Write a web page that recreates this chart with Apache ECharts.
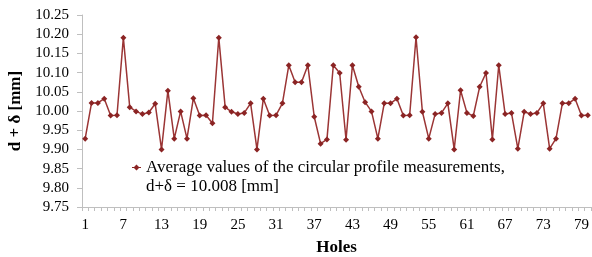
<!DOCTYPE html>
<html>
<head>
<meta charset="utf-8">
<script src="https://cdn.jsdelivr.net/npm/echarts@6/dist/echarts.min.js"></script>
<style>
  html, body { margin: 0; padding: 0; background: #fff; }
  #main { width: 592px; height: 257px; }
</style>
</head>
<body>
<div id="main"></div>
<script>
// hole numbers 1..80
var holes = [];
for (var i = 1; i <= 80; i++) holes.push(String(i));

// average circular profile measurements d + δ [mm]
var avgValues = [
  9.928, 10.021, 10.021, 10.032, 9.988, 9.989, 10.191, 10.010, 9.999, 9.992,
  9.996, 10.019, 9.900, 10.053, 9.928, 9.999, 9.928, 10.033, 9.988, 9.989,
  9.968, 10.191, 10.010, 9.998, 9.992, 9.995, 10.020, 9.900, 10.032, 9.988,
  9.989, 10.020, 10.119, 10.075, 10.075, 10.119, 9.985, 9.915, 9.926, 10.119,
  10.099, 9.925, 10.119, 10.063, 10.023, 9.999, 9.928, 10.020, 10.020, 10.032,
  9.988, 9.989, 10.192, 9.998, 9.928, 9.992, 9.995, 10.020, 9.900, 10.054,
  9.995, 9.987, 10.063, 10.099, 9.926, 10.119, 9.992, 9.995, 9.902, 9.998,
  9.992, 9.995, 10.020, 9.902, 9.928, 10.020, 10.020, 10.032, 9.988, 9.989
];

var seriesName = 'Average values of the circular profile measurements,\nd+δ = 10.008 [mm]';

var chart = echarts.init(document.getElementById('main'));
var serif = 'Liberation Serif';

// legend marker sits on the first text line: short line + diamond in the top of a tall box
var legendIcon = 'path://M0 9 L9 9 L9 10 L0 10 Z M4.5 6.5 L7.5 9.5 L4.5 12.5 L1.5 9.5 Z ' +
  'M0 38 L0.01 38 L0 37.99 Z M0 0 L0.01 0 L0 0.01 Z';

chart.setOption({
  animation: false,
  grid: { left: 82, right: 1, top: 15, bottom: 50, outerBoundsMode: 'none' },
  legend: {
    left: 132,
    top: 158,
    padding: 0,
    itemWidth: 9,
    itemHeight: 38,
    itemGap: 0,
    icon: legendIcon,
    textStyle: {
      fontFamily: serif,
      fontSize: 17,
      color: '#000',
      lineHeight: 19
    },
    data: [{ name: seriesName, icon: legendIcon, itemStyle: { color: '#8b2424' } }]
  },
  xAxis: {
    type: 'category',
    data: holes,
    boundaryGap: true,
    name: 'Holes',
    nameLocation: 'middle',
    nameGap: 32,
    nameTextStyle: { fontFamily: serif, fontSize: 17, fontWeight: 'bold', color: '#000' },
    axisLine: { lineStyle: { color: '#bfbfbf' } },
    axisTick: { show: true, interval: 0, alignWithLabel: false, length: 4, lineStyle: { color: '#bfbfbf' } },
    axisLabel: {
      interval: 5,
      fontFamily: serif,
      fontSize: 15,
      color: '#000',
      margin: 11
    },
    splitLine: { show: false }
  },
  yAxis: {
    type: 'value',
    min: 9.75,
    max: 10.25,
    interval: 0.05,
    name: 'd + δ [mm]',
    nameLocation: 'middle',
    nameRotate: 90,
    nameGap: 58,
    nameTextStyle: { fontFamily: serif, fontSize: 17, fontWeight: 'bold', color: '#000' },
    axisLine: { show: true, lineStyle: { color: '#bfbfbf' } },
    axisTick: { show: true, length: 5, inside: false, lineStyle: { color: '#bfbfbf' } },
    axisLabel: {
      fontFamily: serif,
      fontSize: 15,
      color: '#000',
      margin: 13,
      formatter: function (v) { return v.toFixed(2); }
    },
    splitLine: { show: false }
  },
  series: [{
    name: seriesName,
    type: 'line',
    data: avgValues,
    symbol: 'diamond',
    symbolSize: 6,
    showAllSymbol: true,
    itemStyle: { color: '#8b2424' },
    lineStyle: { color: '#9b3535', width: 1.5 }
  }]
});
</script>
</body>
</html>
